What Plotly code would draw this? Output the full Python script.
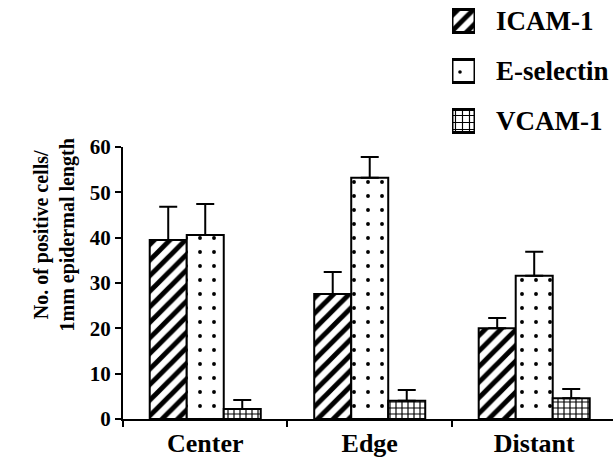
import plotly.graph_objects as go

categories = ["Center", "Edge", "Distant"]
series_names = ["ICAM-1", "E-selectin", "VCAM-1"]
icam = [39.5, 27.6, 20.0]
icam_err = [7.3, 4.8, 2.3]
esel = [40.6, 53.2, 31.6]
esel_err = [6.8, 4.6, 5.3]
vcam = [2.2, 4.0, 4.6]
vcam_err = [2.0, 2.4, 2.0]
y_ticks = [0, 10, 20, 30, 40, 50, 60]

FONT = "Liberation Serif"
shapes = ["/", ".", "+"]
sizes = [11, 14, 6]
solids = [0.45, 0.06, 0.35]

def err(vals):
    return dict(type="data", array=vals, symmetric=False, arrayminus=[0]*len(vals),
                color="black", thickness=2, width=9)

def pat(i):
    return dict(shape=shapes[i], fgcolor="black", bgcolor="white", fgopacity=1,
                size=sizes[i], solidity=solids[i])

fig = go.Figure()
for i, (vals, errs) in enumerate([(icam, icam_err), (esel, esel_err), (vcam, vcam_err)]):
    fig.add_trace(go.Bar(
        x=categories, y=vals, name=series_names[i], showlegend=False,
        error_y=err(errs),
        marker=dict(color="white", line=dict(color="black", width=2), pattern=pat(i)),
        xaxis="x", yaxis="y",
    ))

# legend swatches drawn as an inset bar chart whose tick labels are the series names
fig.add_trace(go.Bar(
    y=series_names, x=[1, 1, 1], orientation="h", width=0.46, showlegend=False,
    hoverinfo="skip",
    marker=dict(color="white", line=dict(color="black", width=3),
                pattern=dict(shape=shapes, fgcolor="black", bgcolor="white", fgopacity=1,
                             size=[11, 16, 7], solidity=[0.45, 0.04, 0.3])),
    xaxis="x2", yaxis="y2",
))

fig.update_layout(
    width=613, height=466,
    margin=dict(l=123, r=0, t=0, b=47, autoexpand=False),
    paper_bgcolor="white", plot_bgcolor="white",
    barmode="group", bargap=0.325, bargroupgap=0,
    font=dict(family=FONT, color="black", size=20),
    showlegend=False,
    xaxis=dict(
        type="category", range=[-0.5, 2.479], domain=[0, 1], anchor="y",
        showline=True, linecolor="black", linewidth=2,
        ticks="outside", tickson="boundaries", ticklen=6, tickwidth=2, tickcolor="black",
        tickfont=dict(family=FONT, size=26, color="black", weight="bold"),
        showgrid=False, zeroline=False,
    ),
    yaxis=dict(
        range=[0, 60], tickvals=y_ticks, domain=[0, 0.6492], anchor="x",
        showline=True, linecolor="black", linewidth=2,
        ticks="outside", ticklen=6, tickwidth=2, tickcolor="black",
        tickfont=dict(family=FONT, size=21, color="black", weight="bold"),
        showgrid=False, zeroline=False,
    ),
    xaxis2=dict(domain=[0.6714, 0.7184], range=[0, 1], anchor="y2",
                visible=False, fixedrange=True),
    yaxis2=dict(domain=[0.6516, 1], type="category", range=[2.5, -0.42], anchor="x2",
                side="right", showline=False, showgrid=False, zeroline=False,
                ticks="", ticklabelstandoff=20,
                tickfont=dict(family=FONT, size=27, color="black", weight="bold")),
    annotations=[dict(
        text="No. of positive cells/<br>1mm epidermal length",
        xref="paper", yref="paper", x=-0.1418, y=0.4391,
        xanchor="center", yanchor="middle", textangle=-90, showarrow=False,
        font=dict(family=FONT, size=20, color="black", weight="bold"),
    )],
)

fig.write_html("out.html", config={"displayModeBar": False},
               post_script="document.body.style.margin='0';document.body.style.overflow='hidden';")
